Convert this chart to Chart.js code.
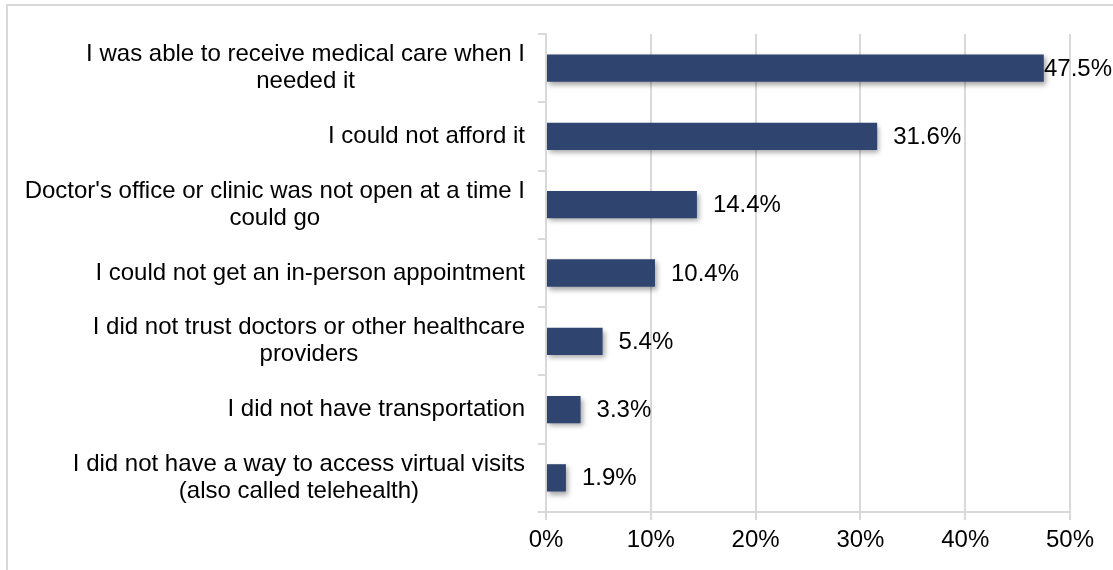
<!DOCTYPE html>
<html>
<head>
<meta charset="utf-8">
<script src="https://cdn.jsdelivr.net/npm/chart.js@4/dist/chart.umd.min.js"></script>
<style>
  html, body { margin: 0; padding: 0; background: #fff; }
  #wrap { position: relative; width: 1113px; height: 570px; overflow: hidden; }
  #frame { position: absolute; left: 6px; top: 4px; width: 1200px; height: 700px; border: 2px solid #d9d9d9; box-sizing: border-box; }
  #chart { position: absolute; left: 0; top: 0; }
</style>
</head>
<body>
<div id="wrap">
  <div id="frame"></div>
  <canvas id="chart" width="1113" height="570"></canvas>
</div>
<script>
// Reasons (categories), each line of a wrapped label as its own string
const reasons = [
    ['I was able to receive medical care when I', 'needed it'],
    ['I could not afford it'],
    ["Doctor's office or clinic was not open at a time I", 'could go'],
    ['I could not get an in-person appointment'],
    ['I did not trust doctors or other healthcare', 'providers'],
    ['I did not have transportation'],
    ['I did not have a way to access virtual visits', '(also called telehealth)']
];
// Share of respondents, percent
const shares = [47.5, 31.6, 14.4, 10.4, 5.4, 3.3, 1.9];
// X axis ticks
const xTicks = [0, 10, 20, 30, 40, 50];

const FONT = '"Liberation Sans", Arial, sans-serif';
const FONT_SIZE = 24;
const BAR_COLOR = '#2f4570';

// sombra suave bajo las barras
const barShadow = {
    id: 'barShadow',
    beforeDatasetsDraw(chart) {
        const ctx = chart.ctx;
        ctx.save();
        ctx.shadowColor = 'rgba(0,0,0,0.35)';
        ctx.shadowBlur = 5;
        ctx.shadowOffsetX = 2;
        ctx.shadowOffsetY = 3;
    },
    afterDatasetsDraw(chart) {
        chart.ctx.restore();
    }
};

// category labels: block right-aligned, lines centered inside the block
const catLabels = {
    id: 'catLabels',
    afterDraw(chart) {
        const ctx = chart.ctx;
        const yScale = chart.scales.y;
        const right = 525;
        const lineH = 27;
        ctx.save();
        ctx.font = FONT_SIZE + 'px ' + FONT;
        ctx.fillStyle = '#000';
        ctx.textAlign = 'center';
        ctx.textBaseline = 'middle';
        reasons.forEach((lines, i) => {
            const w = Math.max(...lines.map(l => ctx.measureText(l).width));
            const cx = right - w / 2;
            const cy = yScale.getPixelForValue(i);
            const top = cy - (lines.length - 1) * lineH / 2;
            lines.forEach((l, j) => ctx.fillText(l, cx, top + j * lineH));
        });
        ctx.restore();
    }
};

// value labels right of each bar
const valueLabels = {
    id: 'valueLabels',
    afterDraw(chart) {
        const ctx = chart.ctx;
        const meta = chart.getDatasetMeta(0);
        ctx.save();
        ctx.font = FONT_SIZE + 'px ' + FONT;
        ctx.fillStyle = '#000';
        ctx.textAlign = 'left';
        ctx.textBaseline = 'middle';
        meta.data.forEach((bar, i) => {
            const txt = shares[i].toFixed(1) + '%';
            const w = ctx.measureText(txt).width;
            let x = bar.x + 16;
            if (x + w > chart.width - 1) x = chart.width - 1 - w;
            ctx.fillText(txt, x, bar.y + 1);
        });
        ctx.restore();
    }
};

new Chart(document.getElementById('chart'), {
    type: 'bar',
    data: {
        labels: reasons.map(r => r.join(' ')),
        datasets: [{
            data: shares,
            backgroundColor: BAR_COLOR,
            borderWidth: 0,
            barPercentage: 0.4,
            categoryPercentage: 1
        }]
    },
    options: {
        indexAxis: 'y',
        responsive: false,
        animation: false,
        layout: { padding: { top: 34, right: 43, bottom: 8, left: 0 } },
        plugins: {
            legend: { display: false },
            tooltip: { enabled: false }
        },
        scales: {
            x: {
                min: 0,
                max: 50,
                afterBuildTicks(scale) {
                    scale.ticks = xTicks.map(v => ({ value: v }));
                },
                afterFit(scale) { scale.height = 50; },
                grid: {
                    color: '#d9d9d9',
                    lineWidth: 2,
                    tickLength: 8,
                    drawTicks: true
                },
                border: { display: true, color: '#d9d9d9', width: 2 },
                ticks: {
                    padding: 6,
                    color: '#000',
                    font: { family: FONT, size: FONT_SIZE },
                    callback: v => v + '%'
                }
            },
            y: {
                afterFit(scale) { scale.width = 546; },
                grid: {
                    offset: true,
                    drawOnChartArea: false,
                    color: '#d9d9d9',
                    lineWidth: 2,
                    tickLength: 8
                },
                border: { display: true, color: '#d9d9d9', width: 2 },
                ticks: { display: false }
            }
        }
    },
    plugins: [barShadow, catLabels, valueLabels]
});
</script>
</body>
</html>
